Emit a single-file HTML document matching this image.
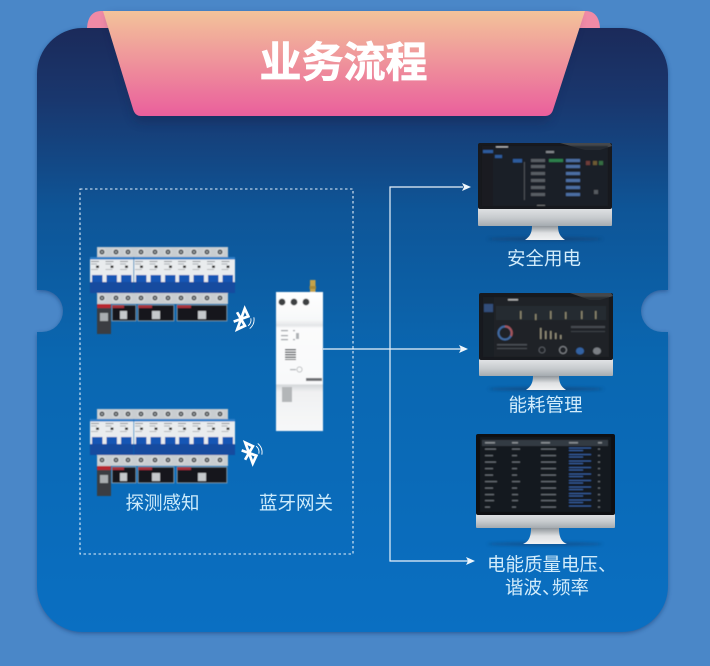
<!DOCTYPE html>
<html><head><meta charset="utf-8"><style>html,body{margin:0;padding:0;background:#4a87c8}svg{display:block}text{font-family:"Liberation Sans","Noto Sans CJK SC",sans-serif}</style></head><body>
<svg width="710" height="666" viewBox="0 0 710 666" xmlns="http://www.w3.org/2000/svg">
<defs>
<linearGradient id="card" x1="0" y1="0" x2="0" y2="1"><stop offset="0" stop-color="#1b2a5a"/><stop offset=".12" stop-color="#19376e"/><stop offset=".3" stop-color="#0e5597"/><stop offset=".55" stop-color="#0a67b1"/><stop offset="1" stop-color="#0a6fc2"/></linearGradient>
<linearGradient id="rib" x1="0" y1="0" x2="0" y2="1"><stop offset="0" stop-color="#f3c39a"/><stop offset="1" stop-color="#ea5f9c"/></linearGradient>
<linearGradient id="silver" x1="0" y1="0" x2="0" y2="1"><stop offset="0" stop-color="#e6e8ea"/><stop offset=".6" stop-color="#c6cacd"/><stop offset="1" stop-color="#a5abb0"/></linearGradient>
<linearGradient id="stand" x1="0" y1="0" x2="0" y2="1"><stop offset="0" stop-color="#8f959a"/><stop offset=".5" stop-color="#dfe1e3"/><stop offset="1" stop-color="#f1f2f3"/></linearGradient>
<linearGradient id="gw" x1="0" y1="0" x2="0" y2="1"><stop offset="0" stop-color="#fff"/><stop offset=".2" stop-color="#f7f8f9"/><stop offset=".24" stop-color="#e3e5e7"/><stop offset=".26" stop-color="#fbfbfc"/><stop offset=".66" stop-color="#f8f9fa"/><stop offset=".67" stop-color="#d5d8db"/><stop offset=".72" stop-color="#f0f1f2"/><stop offset="1" stop-color="#f7f8f9"/></linearGradient>
<filter id="b" x="-20%" y="-20%" width="140%" height="140%"><feGaussianBlur stdDeviation=".5"/></filter>
<filter id="b2" x="-20%" y="-20%" width="140%" height="140%"><feGaussianBlur stdDeviation=".65"/></filter>
<filter id="sh" x="-10%" y="-10%" width="120%" height="120%"><feGaussianBlur stdDeviation="2"/></filter>
<filter id="sh2" x="-10%" y="-10%" width="120%" height="130%"><feGaussianBlur stdDeviation="5"/></filter>
<filter id="s2" x="-30%" y="-300%" width="160%" height="700%"><feGaussianBlur stdDeviation="1.5"/></filter>
<g id="pole"><rect x="0" y="0" width="14.5" height="36" fill="#e9ecee"/><rect x="0" y="0" width="14.5" height="2.5" fill="#2f7fc8"/><rect x="1" y="4" width="8" height="1" fill="#8a8f94"/><rect x="1" y="6.500" width="6" height="1" fill="#a9adb2"/><rect x="6" y="8.500" width="3" height="2.500" fill="#333"/><rect x="1" y="12" width="7" height="1" fill="#b5b8bc"/><rect x="2" y="18" width="10.500" height="12" fill="#1656b5"/><rect x="0" y="25" width="14.500" height="11" fill="#134c9f"/></g>
<g id="screw"><circle r="4" fill="#d3d6d8"/><circle r="2.500" fill="#4d5154"/><circle r="1" fill="#a6aaad"/></g>
<g id="brk">
<rect x="7" y="0" width="131" height="10" fill="#c9cdd0"/>
<rect x="7" y="46" width="131" height="11" fill="#c9cdd0"/>
<use href="#screw" x="12" y="5"/><use href="#screw" x="26" y="5"/><use href="#screw" x="38" y="5"/><use href="#screw" x="51" y="5"/><use href="#screw" x="65" y="5"/><use href="#screw" x="78" y="5"/><use href="#screw" x="91" y="5"/><use href="#screw" x="104" y="5"/><use href="#screw" x="117" y="5"/><use href="#screw" x="130" y="5"/>
<use href="#pole" x="0" y="10"/><use href="#pole" x="14.500" y="10"/><use href="#pole" x="29" y="10"/><use href="#pole" x="44" y="10"/><use href="#pole" x="58.500" y="10"/><use href="#pole" x="73" y="10"/><use href="#pole" x="87" y="10"/><use href="#pole" x="101.500" y="10"/><use href="#pole" x="116" y="10"/><use href="#pole" x="130.500" y="10"/>
<rect x="7" y="46" width="131" height="11" fill="#c9cdd0"/>
<use href="#screw" x="12" y="51"/><use href="#screw" x="26" y="51"/><use href="#screw" x="38" y="51"/><use href="#screw" x="51" y="51"/><use href="#screw" x="65" y="51"/><use href="#screw" x="78" y="51"/><use href="#screw" x="91" y="51"/><use href="#screw" x="104" y="51"/><use href="#screw" x="117" y="51"/><use href="#screw" x="130" y="51"/>
<rect x="7" y="57" width="14" height="30" fill="#3b3d42"/><rect x="7" y="57" width="14" height="4" fill="#b8262f"/><rect x="10" y="66" width="8" height="8" fill="#a9adb0"/>
<rect x="22" y="58" width="24" height="16" fill="#17181c" stroke="#9fb4c6" stroke-width=".6"/><rect x="22" y="58" width="12" height="3" fill="#a8323a"/><rect x="30" y="64" width="7" height="8" fill="#c5c8cb"/>
<rect x="48" y="58" width="36" height="16" fill="#17181c" stroke="#9fb4c6" stroke-width=".6"/><rect x="48" y="58" width="14" height="3" fill="#a8323a"/><rect x="62" y="64" width="8" height="8" fill="#c5c8cb"/>
<rect x="87" y="58" width="50" height="16" fill="#17181c" stroke="#9fb4c6" stroke-width=".6"/><rect x="87" y="58" width="14" height="3" fill="#a8323a"/><rect x="108" y="64" width="8" height="8" fill="#c5c8cb"/>
</g>
<g id="bt" fill="none" stroke="#fff" stroke-width="2.700" stroke-linejoin="miter"><path d="M-6 -5 L6 5 L0 11 L0 -11 L6 -5 L-6 5"/><path d="M9 -4 Q11.500 0 9 4" stroke-width=".9"/><path d="M11.500 -6 Q15 0 11.500 6" stroke-width=".9"/></g>
</defs>

<rect width="710" height="666" fill="#4a87c8"/>

<!-- card shadow -->
<path d="M82 28H622A46 46 0 0 1 668 74V290L662 290A21 21 0 0 0 662 332L668 332V586A46 46 0 0 1 622 632H82A46 46 0 0 1 37 586V332L42 332A21 21 0 0 0 42 290L37 290V74A46 46 0 0 1 82 28Z" fill="#123a72" opacity=".55" filter="url(#sh)" transform="translate(0 1.500)"/>
<!-- tabs -->
<path d="M87 30C87 18 92 11 101 11H110V30Z" fill="#ef8aa6"/>
<path d="M600 30C600 18 595 11 586 11H577V30Z" fill="#ef8aa6"/>
<!-- card -->
<path d="M82 28H622A46 46 0 0 1 668 74V290L662 290A21 21 0 0 0 662 332L668 332V586A46 46 0 0 1 622 632H82A46 46 0 0 1 37 586V332L42 332A21 21 0 0 0 42 290L37 290V74A46 46 0 0 1 82 28Z" fill="url(#card)"/>
<!-- ribbon shadow -->
<path d="M109 16H578L549 118Q548 122 543 122H142Q136 122 134 116Z" fill="#12224e" opacity=".4" filter="url(#sh2)"/>
<!-- ribbon -->
<path d="M103 11H585L553 110Q551 116 545 116H141Q135 116 133 109Z" fill="url(#rib)"/>
<text x="343.500" y="77" text-anchor="middle" font-size="42" font-weight="700" fill="#fff" stroke="#fff" stroke-width=".7">业务流程</text>

<!-- dashed frame -->
<rect x="80" y="189" width="273" height="365" fill="none" stroke="#e6f1fa" stroke-width="1.100" stroke-dasharray="2.500 2.500"/>

<!-- connectors -->
<g stroke="#e9f3fb" stroke-width="1.200" fill="none">
<path d="M323 349H462"/><path d="M463 187H390V561H468"/>
</g>
<g fill="#eef6fc">
<path d="M462 183L471 187L462 191L464 187Z"/>
<path d="M459 345L468 349L459 353L461 349Z"/>
<path d="M466 557L475 561L466 565L468 561Z"/>
</g>

<!-- breakers -->
<g filter="url(#b)">
<use href="#brk" x="90" y="247"/>
<use href="#brk" x="90" y="409"/>
</g>
<use href="#bt" transform="translate(241 319) rotate(20)"/>
<use href="#bt" transform="translate(249 453) rotate(-20)"/>

<!-- gateway -->
<g filter="url(#b)">
<rect x="310" y="280" width="5.500" height="13" fill="#c4a24a"/>
<rect x="309.500" y="286" width="6.500" height="3" fill="#a98a38"/>
<rect x="276" y="292" width="47" height="139" fill="url(#gw)"/>
<circle cx="282" cy="302" r="3.400" fill="#3c3f42"/><circle cx="294" cy="302" r="3.400" fill="#3c3f42"/><circle cx="306" cy="302" r="3.400" fill="#3c3f42"/>
<g fill="#9a9da0"><rect x="281" y="330" width="7" height="1.200"/><rect x="281" y="335" width="7" height="1.200"/><rect x="281" y="339" width="7" height="1.200"/><rect x="293" y="330" width="2" height="1.200"/><rect x="293" y="339" width="2" height="1.200"/></g>
<rect x="296" y="333" width="3" height="6" fill="#aeb1b4"/>
<g fill="#54575a"><rect x="285" y="349" width="11" height="1.400"/><rect x="285" y="351.500" width="11" height="1.400"/><rect x="285" y="354" width="11" height="1.400"/><rect x="285" y="356.500" width="11" height="1.400"/><rect x="285" y="359" width="11" height="1"/></g>
<circle cx="299.500" cy="369.500" r="2.600" fill="none" stroke="#a9acaf" stroke-width=".7"/><rect x="290" y="369" width="6" height="1.200" fill="#a9acaf"/>
<rect x="306" y="378" width="16" height="3" fill="#6d7073"/>
<rect x="282" y="387" width="10" height="15" fill="#b3b6b8"/>
</g>

<text x="162.500" y="509.500" text-anchor="middle" font-size="18.500" fill="#cdebfb">探测感知</text>
<text x="296" y="509.500" text-anchor="middle" font-size="18.500" fill="#cdebfb">蓝牙网关</text>

<!-- monitor 1 -->
<ellipse cx="545" cy="239" rx="58" ry="1.500" fill="#123a68" opacity=".7" filter="url(#s2)"/>
<path d="M532 226H558C558 234 561 237 565 240H525C529 237 532 234 532 226Z" fill="url(#stand)"/>
<rect x="478" y="206" width="134" height="20" rx="1" fill="url(#silver)"/>
<rect x="478" y="143" width="134" height="66" rx="2" fill="#17191e"/>
<path d="M560 143H610L612 146L600 150H585Z" fill="#5a5c5f" opacity=".7"/>
<g filter="url(#b2)" opacity=".75">
<rect x="482" y="146" width="126" height="60" fill="#1f2329"/>
<rect x="482" y="146" width="11" height="60" fill="#1b1e23"/>
<rect x="483" y="150" width="10" height="3" fill="#3472c7"/><rect x="495" y="155" width="7" height="3" fill="#3472c7"/><rect x="513" y="159" width="9" height="3.500" fill="#3472c7"/><rect x="496" y="146" width="12" height="1.500" fill="#e6e6e6"/>
<g fill="#70757c"><rect x="531" y="159" width="14" height="3"/><rect x="531" y="165" width="14" height="3"/><rect x="531" y="172" width="14" height="3"/><rect x="531" y="179" width="14" height="3"/><rect x="531" y="186" width="14" height="3"/><rect x="531" y="193" width="14" height="3"/></g>
<rect x="549" y="159" width="14" height="3" fill="#34a35c"/>
<g fill="#5d8bd0"><rect x="566" y="159" width="14" height="3"/><rect x="566" y="165" width="14" height="3"/><rect x="566" y="172" width="14" height="3"/><rect x="566" y="179" width="14" height="3"/><rect x="566" y="186" width="14" height="3"/><rect x="566" y="193" width="14" height="3"/></g>
<rect x="524" y="162" width=".8" height="38" fill="#6d7278"/>
<rect x="586" y="161" width="4" height="4" fill="#8d4a42"/><rect x="593" y="161" width="4" height="4" fill="#8a6f3a"/><rect x="599" y="161" width="4" height="4" fill="#3f8a50"/>
<rect x="594" y="190" width="4" height="4" fill="#6c7177"/><rect x="546" y="151" width="8" height="2" fill="#a9adb2"/><rect x="537" y="205" width="8" height="1" fill="#999"/>
</g>
<text x="544" y="265" text-anchor="middle" font-size="18.500" fill="#d2ecfb">安全用电</text>

<!-- monitor 2 -->
<ellipse cx="546" cy="389" rx="58" ry="1.500" fill="#123a68" opacity=".7" filter="url(#s2)"/>
<path d="M533 376H559C559 384 562 387 566 390H526C530 387 533 384 533 376Z" fill="url(#stand)"/>
<rect x="479" y="358" width="134" height="18" rx="1" fill="url(#silver)"/>
<rect x="479" y="293" width="134" height="67" rx="2" fill="#17191e"/>
<path d="M570 293H611L613 296L600 300H590Z" fill="#5a5c5f" opacity=".7"/>
<g filter="url(#b2)" opacity=".75">
<rect x="483" y="297" width="126" height="60" fill="#22262c"/>
<rect x="483" y="297" width="11" height="60" fill="#1c2026"/>
<rect x="484" y="304" width="9" height="8" fill="#3a5f99"/><rect x="508" y="299" width="10" height="1.500" fill="#e0e0e0"/>
<rect x="496" y="306" width="110" height="14" fill="#2b3037"/>
<g fill="#b0a887"><rect x="520" y="311" width="1.500" height="8"/><rect x="535" y="314" width="1.500" height="6"/><rect x="550" y="311" width="1.500" height="8"/><rect x="565" y="312" width="1.500" height="7"/><rect x="581" y="311" width="1.500" height="8"/><rect x="595" y="311" width="1.500" height="8"/></g>
<circle cx="505" cy="333" r="6.500" fill="none" stroke="#4f86cf" stroke-width="2"/><path d="M505 326.500A6.500 6.500 0 0 1 511 336" fill="none" stroke="#d86a70" stroke-width="2"/>
<g fill="#b9b296"><rect x="540" y="328" width="1.500" height="11"/><rect x="545" y="331" width="1.500" height="8"/><rect x="550" y="331" width="1.500" height="8"/><rect x="555" y="333" width="1.500" height="6"/><rect x="560" y="335" width="1.500" height="4"/></g>
<rect x="571" y="326" width="34" height="2" fill="#565b62"/><rect x="571" y="331" width="34" height="1" fill="#4a4f56"/>
<rect x="497" y="344" width="30" height="1.500" fill="#5a5f66"/><rect x="497" y="348" width="30" height="1" fill="#5a5f66"/>
<circle cx="563" cy="350" r="3.500" fill="none" stroke="#a9adb2" stroke-width="1"/><ellipse cx="580" cy="351" rx="4" ry="3.500" fill="#3c7cd0"/><ellipse cx="597" cy="351" rx="4" ry="3.500" fill="#9da2a8"/><circle cx="542" cy="350" r="3" fill="none" stroke="#7a7f86" stroke-width=".8"/>
</g>
<text x="545.500" y="411.500" text-anchor="middle" font-size="18.500" fill="#d2ecfb">能耗管理</text>

<!-- monitor 3 -->
<ellipse cx="545" cy="544" rx="58" ry="1.500" fill="#123a68" opacity=".6" filter="url(#s2)"/>
<path d="M531 528H559C559 538 562 542 567 544H523C528 542 531 538 531 528Z" fill="url(#stand)"/>
<rect x="476" y="512" width="139" height="16" rx="1" fill="url(#silver)"/>
<rect x="476" y="434" width="139" height="81" rx="2" fill="#0e0f13"/>
<g filter="url(#b2)" opacity=".8">
<rect x="480" y="437" width="131" height="75" fill="#151a22"/>
<rect x="482" y="440" width="126" height="6" fill="#3e4650"/>
<g fill="#a8adb3"><rect x="485" y="442" width="10" height="1.500"/><rect x="512" y="442" width="6" height="1.500"/><rect x="541" y="442" width="9" height="1.500"/><rect x="569" y="442" width="9" height="1.500"/><rect x="598" y="442" width="4" height="1.500"/></g>
<g fill="#7f868e"><rect x="485" y="448.500" width="11" height="1.200"/><rect x="512" y="448.500" width="8" height="1.200"/><rect x="541" y="448.500" width="15" height="1.200"/><rect x="598" y="448.500" width="2" height="1.200"/><rect x="485" y="455" width="8" height="1.200"/><rect x="512" y="455" width="5" height="1.200"/><rect x="541" y="455" width="15" height="1.200"/><rect x="598" y="455" width="2" height="1.200"/><rect x="485" y="461.500" width="11" height="1.200"/><rect x="512" y="461.500" width="8" height="1.200"/><rect x="541" y="461.500" width="15" height="1.200"/><rect x="598" y="461.500" width="2" height="1.200"/><rect x="485" y="468" width="8" height="1.200"/><rect x="512" y="468" width="5" height="1.200"/><rect x="541" y="468" width="15" height="1.200"/><rect x="598" y="468" width="2" height="1.200"/><rect x="485" y="474.500" width="8" height="1.200"/><rect x="512" y="474.500" width="5" height="1.200"/><rect x="541" y="474.500" width="15" height="1.200"/><rect x="598" y="474.500" width="2" height="1.200"/><rect x="485" y="481" width="12" height="1.200"/><rect x="512" y="481" width="8" height="1.200"/><rect x="541" y="481" width="15" height="1.200"/><rect x="598" y="481" width="2" height="1.200"/><rect x="485" y="487.500" width="8" height="1.200"/><rect x="512" y="487.500" width="5" height="1.200"/><rect x="541" y="487.500" width="15" height="1.200"/><rect x="598" y="487.500" width="2" height="1.200"/><rect x="485" y="494" width="9" height="1.200"/><rect x="512" y="494" width="6" height="1.200"/><rect x="541" y="494" width="15" height="1.200"/><rect x="598" y="494" width="2" height="1.200"/><rect x="485" y="500" width="9" height="1.200"/><rect x="512" y="500" width="6" height="1.200"/><rect x="541" y="500" width="15" height="1.200"/><rect x="598" y="500" width="2" height="1.200"/><rect x="485" y="506.500" width="5" height="1.200"/><rect x="512" y="506.500" width="4" height="1.200"/><rect x="541" y="506.500" width="15" height="1.200"/><rect x="598" y="506.500" width="2" height="1.200"/></g>
<g fill="#3f72c4"><rect x="569" y="447.500" width="22" height="1.100"/><rect x="569" y="450" width="14" height="1.100"/><rect x="569" y="454" width="22" height="1.100"/><rect x="569" y="456.500" width="14" height="1.100"/><rect x="569" y="460.500" width="22" height="1.100"/><rect x="569" y="463" width="14" height="1.100"/><rect x="569" y="467" width="22" height="1.100"/><rect x="569" y="469.500" width="14" height="1.100"/><rect x="569" y="473.500" width="22" height="1.100"/><rect x="569" y="476" width="14" height="1.100"/><rect x="569" y="480" width="22" height="1.100"/><rect x="569" y="482.500" width="14" height="1.100"/><rect x="569" y="486.500" width="22" height="1.100"/><rect x="569" y="489" width="14" height="1.100"/><rect x="569" y="493" width="22" height="1.100"/><rect x="569" y="495.500" width="14" height="1.100"/><rect x="569" y="499.500" width="22" height="1.100"/><rect x="569" y="502" width="14" height="1.100"/><rect x="569" y="505.500" width="22" height="1.100"/></g>
</g>
<text x="487" y="571" font-size="18.500" fill="#d2ecfb">电能质量电压、</text>
<text x="505" y="594" font-size="18.500" fill="#d2ecfb">谐波、</text><text x="552" y="594" font-size="18.500" fill="#d2ecfb">频率</text>
</svg>
</body></html>
